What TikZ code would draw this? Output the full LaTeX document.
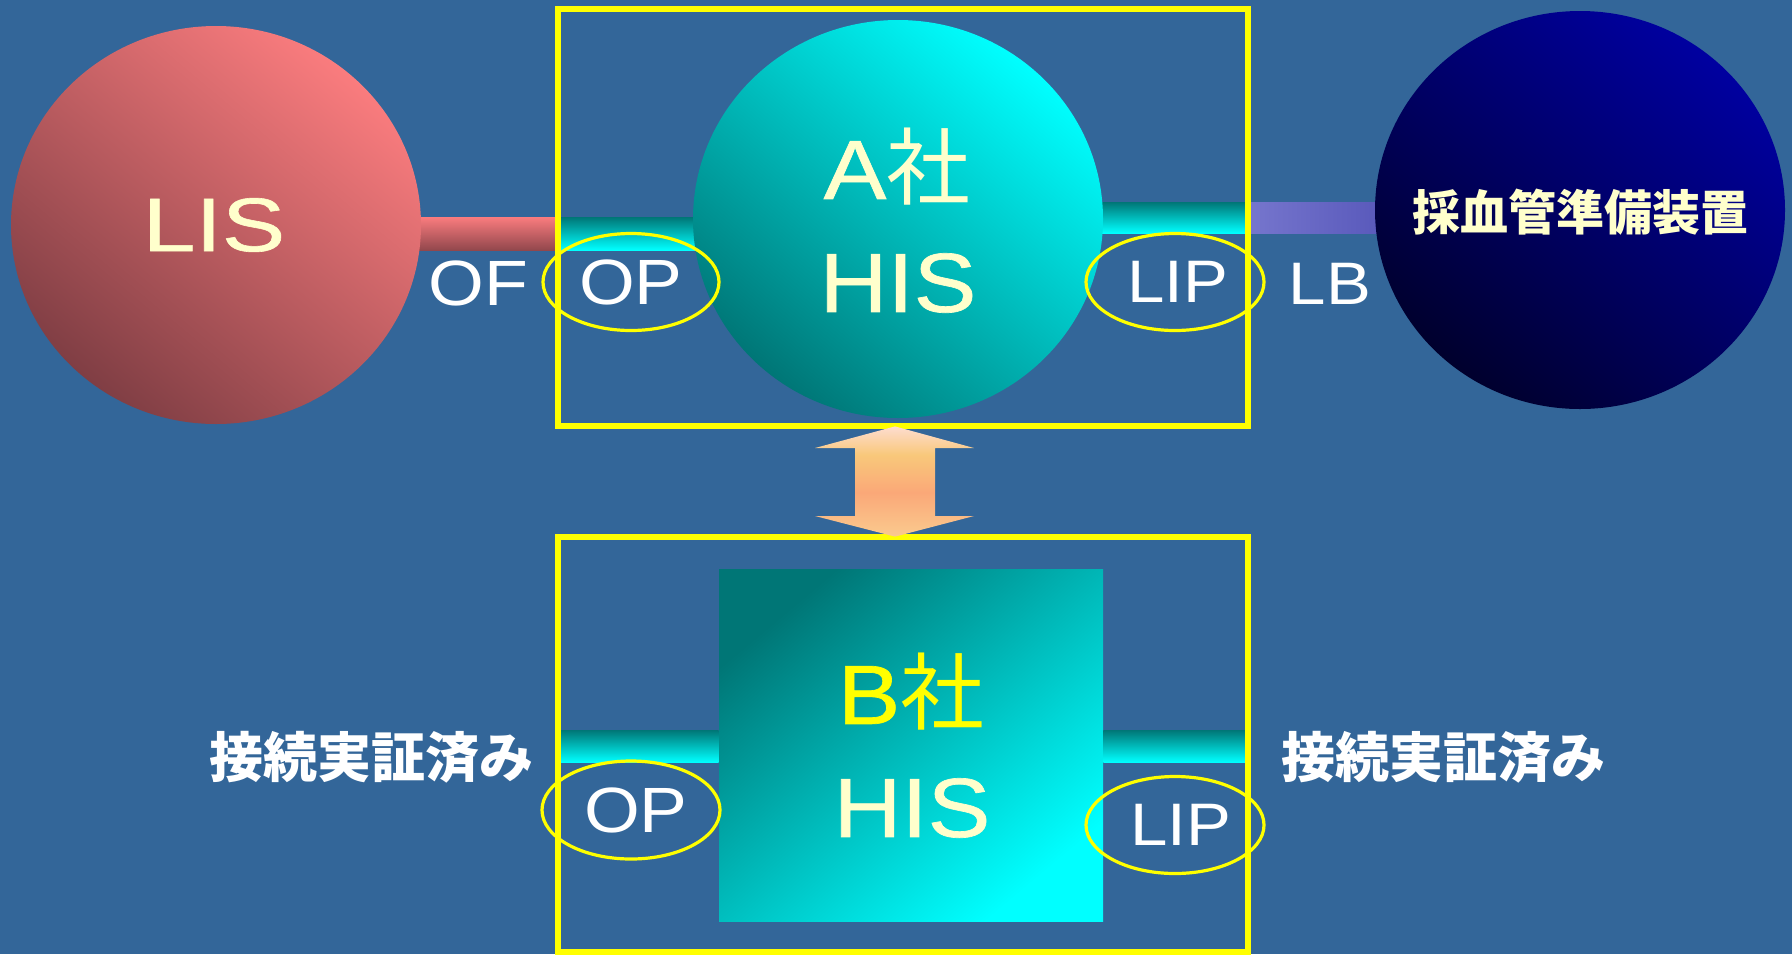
\documentclass[tikz,border=0pt]{standalone}
\usepackage{fontspec}
\setmainfont[FakeStretch=1.12]{Liberation Sans}
\newfontfamily\bigfont[FakeStretch=1.12, FakeBold=0.8]{Liberation Sans}
\newfontfamily\lisfont[FakeStretch=1.25, FakeBold=0.8]{Liberation Sans}
\newfontfamily\jp{Noto Sans CJK JP}
\usetikzlibrary{shapes.geometric,calc}
\definecolor{bg}{RGB}{51,102,153}
\definecolor{lisL}{RGB}{250,124,126}
\definecolor{lisD}{RGB}{128,62,68}
\definecolor{cyanL}{RGB}{0,255,255}
\definecolor{tealD}{RGB}{0,118,118}
\definecolor{navyL}{RGB}{0,0,160}
\definecolor{navyD}{RGB}{0,0,45}
\definecolor{purL}{RGB}{118,118,205}
\definecolor{purD}{RGB}{45,45,160}
\definecolor{cream}{RGB}{255,255,204}
\definecolor{ylw}{RGB}{255,255,0}
\definecolor{pale}{RGB}{255,236,240}
\definecolor{pinkA}{RGB}{255,228,240}
\definecolor{yelA}{RGB}{249,200,122}
\definecolor{orng}{RGB}{250,168,120}
\definecolor{yelB}{RGB}{250,214,150}
\pgfdeclareverticalshading{arrowsh}{100bp}{color(0bp)=(pale); color(18bp)=(yelB); color(45bp)=(orng); color(62bp)=(yelA); color(80bp)=(pinkA); color(100bp)=(pale)}
\tikzset{
  ball/.style={ellipse, inner sep=0pt, minimum width=205pt, minimum height=199pt},
  ybox/.style={draw=ylw, line width=3pt, inner sep=0pt},
  ring/.style={ellipse, draw=ylw, line width=1.6pt, inner sep=0pt, text=white,
    font=\fontsize{32pt}{36pt}\selectfont},
  big/.style={font=\bigfont\fontsize{42pt}{46pt}\selectfont, text=cream},
  lbl/.style={text=white, font=\fontsize{31pt}{36pt}\selectfont},
  jlbl/.style={text=white, font=\jp\bfseries\fontsize{27pt}{30pt}\selectfont},
  tealbar/.style={top color=tealD, bottom color=cyanL},
}
\begin{document}
\begin{tikzpicture}[x=0.5pt, y=-0.5pt]
\fill[bg] (0,0) rectangle (1792,954);
\useasboundingbox (0,0) rectangle (1792,954);
% frames (named nodes; their borders are drawn later)
\path (903,217.5) node[inner sep=0pt, minimum width=345pt, minimum height=208.5pt] (boxA) {};
\path (903,744.5) node[inner sep=0pt, minimum width=345pt, minimum height=207.5pt] (boxB) {};
% main shapes positions
\path (216,225) coordinate (lisC);
\path (898,219) coordinate (ahisC);
\path (1580,210) coordinate (devC);
% connector bars
\shade[top color=lisL, bottom color=lisD!85!lisL]
  (lisC |- 0,217) rectangle (boxA.west |- 0,250);
\shade[tealbar] (boxA.west |- 0,217) rectangle (ahisC |- 0,250);
\shade[tealbar] (ahisC |- 0,202) rectangle (boxA.east |- 0,233);
\shade[left color=purL, right color=purD]
  (boxA.east |- 0,202) rectangle (devC |- 0,233);
% circles
\node[ball, top color=lisL, bottom color=lisD, shading angle=-40] (lis) at (lisC) {};
\node[ball, top color=cyanL, bottom color=tealD, shading angle=-40] (ahis) at (ahisC) {};
\node[ball, top color=navyL, bottom color=navyD, shading angle=-40] (dev) at (devC) {};
% B company square
\node[rectangle, inner sep=0pt, minimum width=192pt, minimum height=176pt,
  top color=tealD, bottom color=cyanL, shading angle=40] (bhis) at (911,745) {};
\shade[tealbar] (boxB.west |- 0,730) rectangle (bhis.west |- 0,762);
\shade[tealbar] (bhis.east |- 0,730) rectangle (boxB.east |- 0,762);
% frames
\draw[ybox] (boxA.south west) rectangle (boxA.north east);
\draw[ybox] (boxB.south west) rectangle (boxB.north east);
% double arrow between frames
\shade[shading=arrowsh]
  (boxA.south -| 895,0) -- (974,448) -- (935,448) -- (935,516) -- (974,516)
  -- (boxB.north -| 895,0) -- (815,516) -- (855,516) -- (855,448) -- (815,448) -- cycle;
% port ellipses
\node[ring, minimum width=88pt, minimum height=48.5pt] (opA) at (631,282) {OP};
\node[ring, minimum width=89pt, minimum height=48.5pt, font=\fontsize{30pt}{34pt}\selectfont] (lipA) at (1175,282) {\hspace{3pt}LIP};
\node[ring, minimum width=89pt, minimum height=49pt] (opB) at (631,810) {\hspace{5pt}OP};
\node[ring, minimum width=89pt, minimum height=48.5pt, font=\fontsize{30pt}{34pt}\selectfont] (lipB) at (1175,825) {\hspace{6pt}LIP};
% texts
\node[text=cream, font=\lisfont\fontsize{38pt}{40pt}\selectfont] (lisT) at (214,225) {LIS};
\node[big] (ahisT1) at (897,167) {A{\jp 社}};
\node[big] (ahisT2) at (898,283) {HIS};
\node[text=cream, font=\jp\bfseries\fontsize{24pt}{28pt}\selectfont] (devT) at (1580,212) {採血管準備装置};
\node[big, text=ylw] (bhisT1) at (911,692) {B{\jp 社}};
\node[big] (bhisT2) at (912,808) {HIS};
\node[lbl, font=\fontsize{32pt}{36pt}\selectfont] (of) at (478,283) {OF};
\node[lbl, font=\fontsize{30pt}{34pt}\selectfont] (lb) at (1330,284) {LB};
\node[jlbl] (okL) at (371,757) {接続実証済み};
\node[jlbl] (okR) at (1443,757) {接続実証済み};
\end{tikzpicture}
\end{document}
